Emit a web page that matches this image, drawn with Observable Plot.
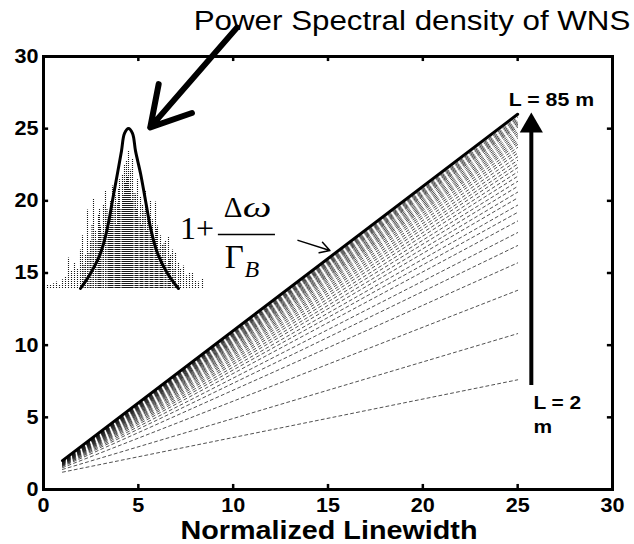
<!DOCTYPE html>
<html>
<head>
<meta charset="utf-8">
<script src="https://cdn.jsdelivr.net/npm/d3@7"></script>
<script src="https://cdn.jsdelivr.net/npm/@observablehq/plot@0.6"></script>
<style>
  html, body { margin: 0; padding: 0; background: white; }
  #wrap { position: relative; width: 634px; height: 544px; }
  #inset { position: absolute; left: 41px; top: 124px; }
</style>
</head>
<body>
<div id="wrap"><div id="main"></div><div id="inset"></div></div>
<script>
// ---------- data ----------
const xTicks = [0, 5, 10, 15, 20, 25, 30];
const yTicks = [0, 5, 10, 15, 20, 25, 30];
const innerTicks = [5, 10, 15, 20, 25];
const linewidthRange = [1, 25];           // normalized linewidth span of each curve
// limit curve 1 + Δω/Γ_B (solid)
const limitStart = 2.0;
const limitEnd = 26.0;
// finite-length curves, L = 2 m (bottom) ... L = 85 m (top), dashed
const dashStart = [1.20, 1.39, 1.51, 1.59, 1.64, 1.67, 1.70, 1.73, 1.75, 1.77,
                   1.78, 1.80, 1.81, 1.83, 1.84, 1.85, 1.86, 1.87, 1.88, 1.89,
                   1.90, 1.91, 1.92, 1.92, 1.93, 1.93, 1.94, 1.95, 1.95, 1.96,
                   1.96, 1.97, 1.97, 1.98, 1.98, 1.98, 1.99, 1.99];
const dashEnd = [7.6, 10.8, 13.8, 15.7, 16.9, 17.8, 18.6, 19.2, 19.7, 20.2,
                 20.6, 21.0, 21.35, 21.7, 22.0, 22.3, 22.55, 22.8, 23.05, 23.3,
                 23.5, 23.7, 23.9, 24.05, 24.2, 24.35, 24.5, 24.65, 24.8, 24.95,
                 25.1, 25.2, 25.3, 25.4, 25.5, 25.6, 25.7, 25.8];
// inset: power spectral density of white noise source
const psdFreq = [-46, -36, -26, -19, -14, -9, -5, -2, 2, 6, 9, 14, 19, 24, 31, 41, 52];
const psdPower = [0, 0.094, 0.22, 0.38, 0.55, 0.72, 0.86, 0.97, 1.0, 0.97, 0.86, 0.72, 0.55, 0.38, 0.22, 0.094, 0];
const noiseFreq = [-79, -76, -73, -70, -67, -64, -61, -58, -55, -52, -49, -46, -44, -41, -39, -36, -33, -31, -28, -26,
                   -23, -21, -18, -16, -14, -11, -9, -7, -4, -2, 0, 2, 4, 6, 9, 11, 14, 16, 19, 21,
                   24, 26, 29, 31, 34, 36, 39, 42, 44, 46, 49, 52, 54, 57, 60, 63, 66, 69, 72, 76,
                   -42.5, -37.5, -34.5, -29.5, -27, -24.5, -19.5, -17, -15, -12.5, -10, -8, -5.5, -3, -1, 1, 3, 5,
                   7.5, 10, 12.5, 15, 17.5, 20, 22.5, 25, 27.5, 30, 32.5, 35, 37.5, 40.5, 43, 47.5];
const noisePower = [0.025, 0.02, 0.03, 0.04, 0.025, 0.055, 0.075, 0.19, 0.11, 0.16, 0.125, 0.24, 0.33, 0.21, 0.49, 0.30, 0.56, 0.36, 0.46, 0.39,
                    0.52, 0.61, 0.43, 0.55, 0.64, 0.58, 0.53, 0.68, 0.71, 0.77, 0.80, 0.86, 0.74, 0.81, 0.59, 0.68, 0.57, 0.52, 0.61, 0.48,
                    0.55, 0.43, 0.54, 0.39, 0.33, 0.27, 0.30, 0.32, 0.21, 0.24, 0.22, 0.16, 0.125, 0.14, 0.08, 0.10, 0.095, 0.05, 0.04, 0.06,
                    0.15, 0.22, 0.40, 0.30, 0.50, 0.35, 0.50, 0.38, 0.47, 0.52, 0.40, 0.62, 0.50, 0.58, 0.66, 0.70, 0.62, 0.55,
                    0.60, 0.50, 0.45, 0.40, 0.48, 0.36, 0.42, 0.35, 0.30, 0.37, 0.25, 0.20, 0.28, 0.15, 0.18, 0.12];

// ---------- tables ----------
const dashed = [];
dashStart.forEach((s, i) => {
  dashed.push({id: i, x: linewidthRange[0], y: s});
  dashed.push({id: i, x: linewidthRange[1], y: dashEnd[i]});
});
const limit = [{x: linewidthRange[0], y: limitStart}, {x: linewidthRange[1], y: limitEnd}];
const psd = psdFreq.map((f, i) => ({f, p: psdPower[i]}));
const noise = noiseFreq.map((f, i) => ({f, p: noisePower[i]}));

const sans = "'Liberation Sans', Arial, Helvetica, sans-serif";
const serif = "'Liberation Serif', 'Times New Roman', serif";

const main = Plot.plot({
  width: 634, height: 544,
  marginLeft: 43, marginRight: 22, marginTop: 56, marginBottom: 55,
  style: {fontFamily: sans, color: "black", background: "white", overflow: "visible"},
  x: {domain: [0, 30], ticks: xTicks},
  y: {domain: [0, 30], ticks: yTicks},
  marks: [
    Plot.line(dashed, {x: "x", y: "y", z: "id", stroke: "#1a1a1a", strokeWidth: 0.85, strokeDasharray: "3,3", strokeOpacity: 0.9}),
    Plot.line(limit, {x: "x", y: "y", stroke: "black", strokeWidth: 3}),
    Plot.frame({stroke: "black", strokeWidth: 3}),
    Plot.ruleX(innerTicks, {x: d => d, y1: 0, y2: 0.35, stroke: "black", strokeWidth: 2.5}),
    Plot.ruleX(innerTicks, {x: d => d, y1: 29.65, y2: 30, stroke: "black", strokeWidth: 2.5}),
    Plot.ruleY(innerTicks, {y: d => d, x1: 0, x2: 0.27, stroke: "black", strokeWidth: 2.5}),
    Plot.ruleY(innerTicks, {y: d => d, x1: 29.73, x2: 30, stroke: "black", strokeWidth: 2.5}),
    Plot.axisX({anchor: "bottom", ticks: xTicks, tickSize: 0, tickPadding: 8, fontSize: 20, fontWeight: "bold", label: null}),
    Plot.axisY({anchor: "left", ticks: yTicks, tickSize: 0, tickPadding: 5, fontSize: 20, fontWeight: "bold", label: null}),
    // x-axis title
    Plot.text(["Normalized Linewidth"], {x: 15.05, y: -3.43, text: d => d, fontSize: 25, fontWeight: "bold", lineAnchor: "bottom", textAnchor: "middle"}),
    // inset title + arrow
    Plot.text(["Power Spectral density of WNS"], {x: 19.43, y: 31.81, text: d => d, fontSize: 27, lineAnchor: "bottom", textAnchor: "middle"}),
    Plot.arrow([0], {x1: 10.2, y1: 32.0, x2: 5.63, y2: 25.09, stroke: "black", strokeWidth: 6, headLength: 24}),
    // formula 1 + Δω / Γ_B
    Plot.text(["1+"], {x: 7.2, y: 17.39, text: d => d, fontFamily: serif, fontSize: 32, lineAnchor: "bottom", textAnchor: "start"}),
    Plot.ruleY([17.67], {y: d => d, x1: 9.22, x2: 12.23, stroke: "black", strokeWidth: 1.4}),
    Plot.text(["Δ"], {x: 9.5, y: 18.85, text: d => d, fontFamily: serif, fontSize: 29, lineAnchor: "bottom", textAnchor: "start"}),
    Plot.text(["ω"], {x: 10.5, y: 18.85, text: d => d, fontFamily: serif, fontStyle: "italic", fontSize: 29, lineAnchor: "bottom", textAnchor: "start"}),
    Plot.text(["Γ"], {x: 9.55, y: 15.32, text: d => d, fontFamily: serif, fontSize: 33, lineAnchor: "bottom", textAnchor: "start"}),
    Plot.text(["B"], {x: 10.6, y: 14.69, text: d => d, fontFamily: serif, fontStyle: "italic", fontSize: 24, lineAnchor: "bottom", textAnchor: "start"}),
    Plot.arrow([0], {x1: 13.42, y1: 17.26, x2: 15.1, y2: 16.56, stroke: "black", strokeWidth: 1.5, headLength: 11}),
    // L arrow
    Plot.ruleX([25.72], {x: d => d, y1: 7.2, y2: 24.9, stroke: "black", strokeWidth: 4}),
    Plot.dot([25.72], {x: d => d, y: 25.2, symbol: "triangle", r: 8.6, fill: "black", stroke: null}),
    Plot.text(["L = 85 m"], {x: 26.78, y: 26.54, text: d => d, fontSize: 19, fontWeight: "bold", lineAnchor: "bottom", textAnchor: "middle"}),
    Plot.text(["L = 2"], {x: 25.83, y: 5.61, text: d => d, fontSize: 19, fontWeight: "bold", lineAnchor: "bottom", textAnchor: "start"}),
    Plot.text(["m"], {x: 25.83, y: 3.88, text: d => d, fontSize: 19, fontWeight: "bold", lineAnchor: "bottom", textAnchor: "start"})
  ]
});

const inset = Plot.plot({
  width: 168, height: 168,
  marginLeft: 4, marginRight: 4, marginTop: 4, marginBottom: 4,
  style: {background: "transparent", overflow: "visible"},
  x: {domain: [-81, 79], axis: null},
  y: {domain: [0, 1], axis: null},
  marks: [
    Plot.ruleX(noise, {x: "f", y1: 0, y2: "p", stroke: "black", strokeWidth: 1.1, strokeDasharray: "1,1", strokeOpacity: 0.9}),
    Plot.line(psd, {x: "f", y: "p", curve: "catmull-rom", stroke: "black", strokeWidth: 3})
  ]
});

// horizontal stretching of some labels to match the reference glyph widths
function stretchText(svg) {
  svg.querySelectorAll("text").forEach(t => {
    const txt = t.textContent;
    const g = t.closest("g");
    const label = g ? (g.getAttribute("aria-label") || "") : "";
    let sx = 1;
    if (txt === "Power Spectral density of WNS") sx = 1.16;
    else if (txt === "Normalized Linewidth") sx = 1.15;
    else if (txt === "L = 85 m") sx = 1.12;
    else if (txt === "L = 2" || txt === "m") sx = 1.1;
    else if (txt === "ω") sx = 1.4;
    else if (label.includes("tick label")) sx = 1.08;
    if (sx === 1) return;
    let tr = t.getAttribute("transform");
    if (!tr) {
      const x = +t.getAttribute("x") || 0, y = +t.getAttribute("y") || 0;
      t.removeAttribute("x"); t.removeAttribute("y");
      tr = `translate(${x},${y})`;
    }
    t.setAttribute("transform", tr + ` scale(${sx},1)`);
  });
}
stretchText(main);

document.getElementById("main").appendChild(main);
document.getElementById("inset").appendChild(inset);
</script>
</body>
</html>
